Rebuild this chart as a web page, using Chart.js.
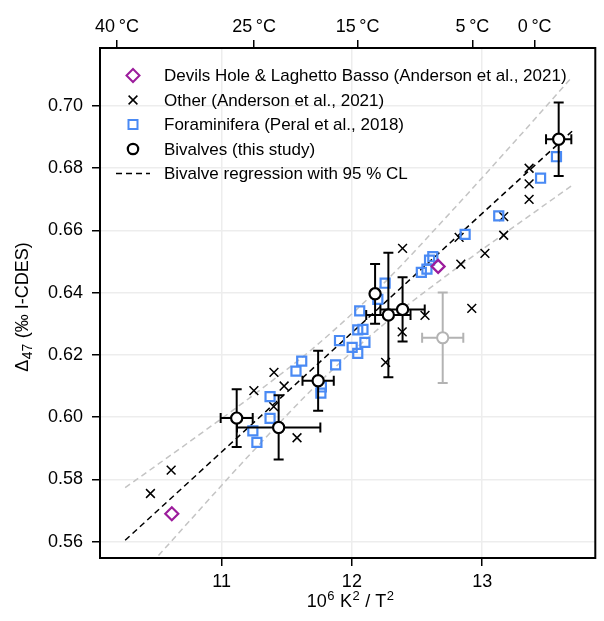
<!DOCTYPE html>
<html><head><meta charset="utf-8">
<script src="https://cdn.jsdelivr.net/npm/chart.js@4.4.1/dist/chart.umd.min.js"></script>
<style>html,body{margin:0;padding:0;background:#fff;}#wrap{width:604px;height:621px;}</style>
</head><body><div id="wrap"><canvas id="c" width="604" height="621"></canvas></div>
<script>
// ---- data ----
const devilsX = [10.618, 12.662];
const devilsY = [0.5690, 0.6484];

const otherX = [10.454, 10.613, 11.248, 11.402, 11.400, 11.480, 11.579, 12.259, 12.386, 12.389, 12.561, 12.823, 12.836, 12.920, 13.021, 13.165, 13.165, 13.360, 13.360, 13.360];
const otherY = [0.5755, 0.5830, 0.6085, 0.6144, 0.6034, 0.6100, 0.5934, 0.6176, 0.6274, 0.6542, 0.6327, 0.6577, 0.6491, 0.6349, 0.6526, 0.6644, 0.6584, 0.6799, 0.6749, 0.6699];

const foramX = [11.372, 11.372, 11.240, 11.271, 11.571, 11.615, 11.766, 11.762, 11.875, 11.905, 12.002, 12.045, 12.100, 12.045, 12.085, 12.060, 12.199, 12.255, 12.533, 12.576, 12.596, 12.621, 12.869, 13.127, 13.448, 13.570];
const foramY = [0.6066, 0.5996, 0.5956, 0.5919, 0.6148, 0.6180, 0.6097, 0.6077, 0.6168, 0.6246, 0.6224, 0.6205, 0.6240, 0.6280, 0.6282, 0.6341, 0.6378, 0.6430, 0.6465, 0.6475, 0.6504, 0.6515, 0.6587, 0.6646, 0.6767, 0.6836];

const bivalveX    = [11.116, 11.438, 11.741, 12.178, 12.280, 12.389, 13.587];
const bivalveY    = [0.5997, 0.5967, 0.6117, 0.6396, 0.6328, 0.6346, 0.6892];
const bivalveXErr = [0.123, 0.320, 0.120, 0.000, 0.170, 0.170, 0.097];
const bivalveYErr = [0.0093, 0.0103, 0.0096, 0.0096, 0.0200, 0.0103, 0.0118];

const excludedX = [12.697];
const excludedY = [0.6255];
const excludedXErr = [0.158];
const excludedYErr = [0.0145];

const regX = [10.26, 13.69];
const regY = [0.5605, 0.6918];

const ciX     = [10.26, 10.75, 11.25, 11.75, 12.25, 12.75, 13.25, 13.69];
const ciUpper = [0.5774, 0.5920, 0.6073, 0.6238, 0.6432, 0.6654, 0.6885, 0.7092];
const ciLower = [0.5436, 0.5665, 0.5895, 0.6112, 0.6300, 0.6462, 0.6613, 0.6744];

const xTicks = [11, 12, 13];
const yTicks = [0.56, 0.58, 0.60, 0.62, 0.64, 0.66, 0.68, 0.70];
const topTempsC = [40, 25, 15, 5, 0];
const xMin = 10.067, xMax = 13.868, yMin = 0.5548, yMax = 0.7185;

const legendLabels = [
  'Devils Hole & Laghetto Basso (Anderson et al., 2021)',
  'Other (Anderson et al., 2021)',
  'Foraminifera (Peral et al., 2018)',
  'Bivalves (this study)',
  'Bivalve regression with 95 % CL'
];
// axis titles as [text, 0 = normal / 1 = superscript / -1 = subscript]
const xTitleParts = [['10', 0], ['6', 1], [' K', 0], ['2', 1], [' / T', 0], ['2', 1]];
const yTitleParts = [['Δ', 0], ['47', -1], [' (‰ I-CDES)', 0]];

// ---- styles ----
const FONT = "'Liberation Sans', Arial, Helvetica, sans-serif";
const FS = 17;     // legend
const TFS = 18;    // tick labels and axis titles
const PURPLE = '#9c1c9c';
const BLUE = '#4a8af4';
const CIGRAY = '#c4c4c4';
const EXGRAY = '#b3b3b3';

Chart.defaults.font.family = FONT;
Chart.defaults.color = '#000';

const pts = (xs, ys) => xs.map((v, i) => ({x: v, y: ys[i]}));

const errorBars = {
  id: 'errorBars',
  beforeDatasetDraw(chart, args) {
    const ds = chart.data.datasets[args.index];
    if (!ds.errX) return;
    const xs = chart.scales.x, ys = chart.scales.y, ctx = chart.ctx, a = chart.chartArea;
    ctx.save();
    ctx.beginPath(); ctx.rect(a.left, a.top, a.right - a.left, a.bottom - a.top); ctx.clip();
    ctx.strokeStyle = ds.errColor; ctx.lineWidth = 2; ctx.setLineDash([]);
    const cap = 5;
    ds.data.forEach((p, i) => {
      const px = xs.getPixelForValue(p.x), py = ys.getPixelForValue(p.y);
      const ex = ds.errX[i], ey = ds.errY[i];
      ctx.beginPath();
      if (ex > 0) {
        const x1 = xs.getPixelForValue(p.x - ex), x2 = xs.getPixelForValue(p.x + ex);
        ctx.moveTo(x1, py); ctx.lineTo(x2, py);
        ctx.moveTo(x1, py - cap); ctx.lineTo(x1, py + cap);
        ctx.moveTo(x2, py - cap); ctx.lineTo(x2, py + cap);
      }
      if (ey > 0) {
        const y1 = ys.getPixelForValue(p.y - ey), y2 = ys.getPixelForValue(p.y + ey);
        ctx.moveTo(px, y1); ctx.lineTo(px, y2);
        ctx.moveTo(px - cap, y1); ctx.lineTo(px + cap, y1);
        ctx.moveTo(px - cap, y2); ctx.lineTo(px + cap, y2);
      }
      ctx.stroke();
    });
    ctx.restore();
  }
};

function drawMarker(ctx, kind, x, y) {
  ctx.save();
  ctx.setLineDash([]);
  ctx.beginPath();
  if (kind === 'diamond') {
    const r = 6.5;
    ctx.moveTo(x, y - r); ctx.lineTo(x + r, y); ctx.lineTo(x, y + r); ctx.lineTo(x - r, y); ctx.closePath();
    ctx.fillStyle = '#fff'; ctx.fill(); ctx.strokeStyle = PURPLE; ctx.lineWidth = 2; ctx.stroke();
  } else if (kind === 'cross') {
    const r = 4.4;
    ctx.moveTo(x - r, y - r); ctx.lineTo(x + r, y + r); ctx.moveTo(x + r, y - r); ctx.lineTo(x - r, y + r);
    ctx.strokeStyle = '#000'; ctx.lineWidth = 1.5; ctx.stroke();
  } else if (kind === 'square') {
    const r = 4.5;
    ctx.rect(x - r, y - r, 2 * r, 2 * r);
    ctx.fillStyle = '#fff'; ctx.fill(); ctx.strokeStyle = BLUE; ctx.lineWidth = 2; ctx.stroke();
  } else if (kind === 'circle') {
    ctx.arc(x, y, 5.2, 0, Math.PI * 2);
    ctx.fillStyle = '#fff'; ctx.fill(); ctx.strokeStyle = '#000'; ctx.lineWidth = 2.2; ctx.stroke();
  } else if (kind === 'line') {
    ctx.moveTo(x - 17, y); ctx.lineTo(x + 17, y);
    ctx.strokeStyle = '#000'; ctx.lineWidth = 1.5; ctx.setLineDash([6, 4]); ctx.stroke();
  }
  ctx.restore();
}

function drawRich(ctx, parts, cx, cy, bigSize, smallSize, supDy, subDy) {
  const big = bigSize + 'px ' + FONT, small = smallSize + 'px ' + FONT;
  let w = 0;
  parts.forEach(([t, m]) => { ctx.font = m ? small : big; w += ctx.measureText(t).width + (m ? 1 : 0); });
  let x = cx - w / 2;
  ctx.textAlign = 'left'; ctx.textBaseline = 'alphabetic';
  parts.forEach(([t, m]) => {
    ctx.font = m ? small : big;
    const dy = m === 1 ? supDy : (m === -1 ? subDy : 0);
    if (m) x += 0.5;
    ctx.fillText(t, x, cy + dy);
    x += ctx.measureText(t).width + (m ? 0.5 : 0);
  });
}

const titlesPlugin = {
  id: 'axisTitles',
  afterDraw(chart) {
    const ctx = chart.ctx, a = chart.chartArea;
    ctx.save();
    ctx.fillStyle = '#000';
    drawRich(ctx, xTitleParts, (a.left + a.right) / 2 + 3, 607, TFS, 13, -7, 0);
    ctx.translate(28, 307);
    ctx.rotate(-Math.PI / 2);
    drawRich(ctx, yTitleParts, 0, 0, TFS, 14, 0, 4);
    ctx.restore();
  }
};

const legendPlugin = {
  id: 'customLegend',
  afterDraw(chart) {
    const ctx = chart.ctx;
    const kinds = ['diamond', 'cross', 'square', 'circle', 'line'];
    const rows = [75.5, 100, 124.5, 149, 173.5];
    ctx.save();
    ctx.font = FS + 'px ' + FONT;
    ctx.fillStyle = '#000';
    ctx.textBaseline = 'middle';
    ctx.textAlign = 'left';
    legendLabels.forEach((t, i) => {
      drawMarker(ctx, kinds[i], 133, rows[i]);
      ctx.fillText(t, 164, rows[i] + 1);
    });
    ctx.restore();
  }
};

const framePlugin = {
  id: 'frame',
  afterDatasetsDraw(chart) {
    const a = chart.chartArea, ctx = chart.ctx;
    ctx.save();
    ctx.strokeStyle = '#000'; ctx.lineWidth = 2; ctx.setLineDash([]);
    ctx.strokeRect(a.left, a.top, a.right - a.left, a.bottom - a.top);
    ctx.restore();
  }
};

const gridOpts = {color: '#ededed', lineWidth: 1.5, tickColor: '#000', tickLength: 8, tickWidth: 1.5};

new Chart(document.getElementById('c'), {
  type: 'scatter',
  data: {
    datasets: [
      {label: 'CI upper', type: 'line', data: pts(ciX, ciUpper), borderColor: CIGRAY, borderWidth: 1.5, borderDash: [6, 4], pointRadius: 0, fill: false, cubicInterpolationMode: 'monotone', order: 10},
      {label: 'CI lower', type: 'line', data: pts(ciX, ciLower), borderColor: CIGRAY, borderWidth: 1.5, borderDash: [6, 4], pointRadius: 0, fill: false, cubicInterpolationMode: 'monotone', order: 10},
      {label: legendLabels[4], type: 'line', data: pts(regX, regY), borderColor: '#000', borderWidth: 1.5, borderDash: [6, 4], pointRadius: 0, fill: false, order: 9},
      {label: legendLabels[1], data: pts(otherX, otherY), pointStyle: 'crossRot', pointRadius: 6.2, borderColor: '#000', borderWidth: 1.5, order: 8},
      {label: legendLabels[2], data: pts(foramX, foramY), pointStyle: 'rect', pointRadius: 6.4, backgroundColor: 'rgba(0,0,0,0)', borderColor: BLUE, borderWidth: 2.2, order: 7},
      {label: legendLabels[0], data: pts(devilsX, devilsY), pointStyle: 'rectRot', pointRadius: 6.5, backgroundColor: 'rgba(0,0,0,0)', borderColor: PURPLE, borderWidth: 2.2, order: 6},
      {label: 'Excluded bivalve', data: pts(excludedX, excludedY), errX: excludedXErr, errY: excludedYErr, errColor: EXGRAY, pointStyle: 'circle', pointRadius: 5.6, backgroundColor: '#fff', borderColor: EXGRAY, borderWidth: 2, order: 5},
      {label: legendLabels[3], data: pts(bivalveX, bivalveY), errX: bivalveXErr, errY: bivalveYErr, errColor: '#000', pointStyle: 'circle', pointRadius: 5.6, backgroundColor: '#fff', borderColor: '#000', borderWidth: 2.2, order: 4}
    ]
  },
  options: {
    responsive: false,
    animation: false,
    devicePixelRatio: 1,
    layout: {padding: {left: 0, right: 3, top: 0, bottom: 0}},
    plugins: {legend: {display: false}, tooltip: {enabled: false}},
    scales: {
      x: {
        type: 'linear', position: 'bottom', min: xMin, max: xMax,
        afterBuildTicks: s => { s.ticks = xTicks.map(v => ({value: v})); },
        afterFit: s => { s.height = 63; },
        grid: gridOpts, border: {display: false},
        ticks: {color: '#000', font: {size: TFS}, padding: 5, maxRotation: 0, autoSkip: false, callback: v => String(v)},
        title: {display: false}
      },
      x2: {
        type: 'linear', position: 'top', min: xMin, max: xMax,
        afterBuildTicks: s => { s.ticks = topTempsC.map(t => ({value: 1e6 / Math.pow(t + 273.15, 2)})); },
        afterFit: s => { s.height = 48; },
        grid: Object.assign({}, gridOpts, {drawOnChartArea: false}), border: {display: false},
        ticks: {color: '#000', font: {size: TFS}, padding: 2, maxRotation: 0, autoSkip: false,
          callback: (v, i) => topTempsC[i] + '\u2009°C'}
      },
      y: {
        type: 'linear', position: 'left', min: yMin, max: yMax,
        afterBuildTicks: s => { s.ticks = yTicks.map(v => ({value: v})); },
        afterFit: s => { s.width = 100; },
        grid: gridOpts, border: {display: false},
        ticks: {color: '#000', font: {size: TFS}, padding: 9, autoSkip: false, callback: v => v.toFixed(2)},
        title: {display: false}
      }
    }
  },
  plugins: [errorBars, framePlugin, legendPlugin, titlesPlugin]
});
</script>
</body></html>
